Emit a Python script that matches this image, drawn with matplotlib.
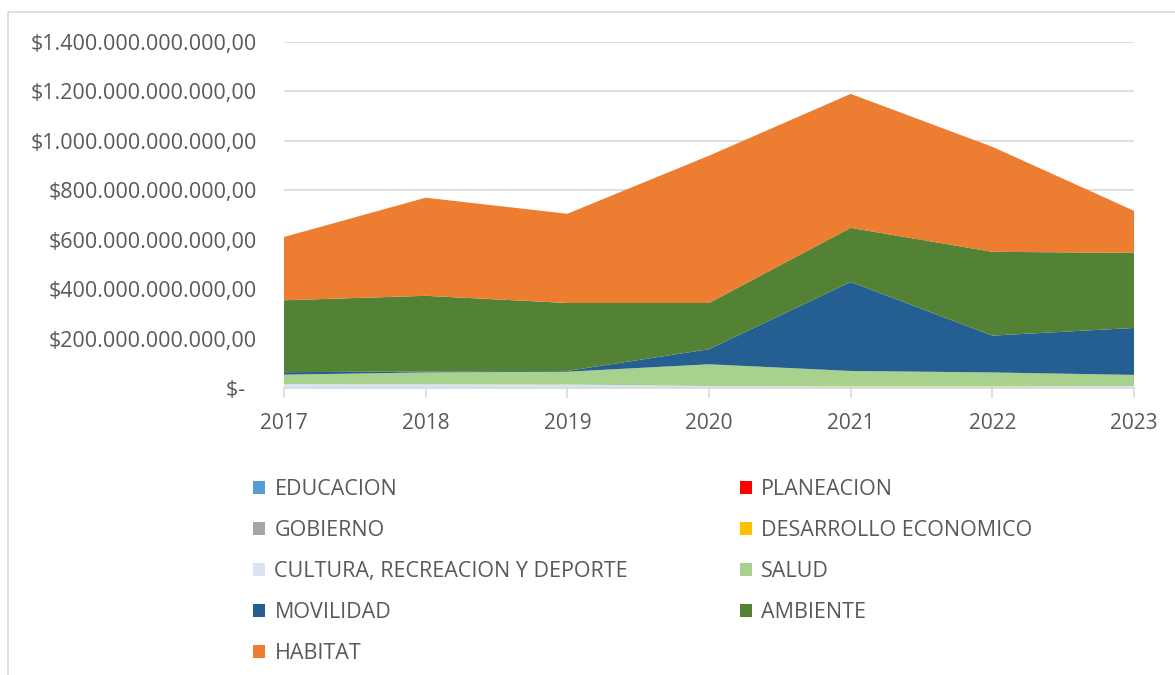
import matplotlib
matplotlib.use("Agg")
import matplotlib.pyplot as plt
from matplotlib.patches import Rectangle, Patch
from matplotlib.ticker import FuncFormatter, FixedLocator
import numpy as np

years = ["2017", "2018", "2019", "2020", "2021", "2022", "2023"]
series_names = ["EDUCACION", "PLANEACION", "GOBIERNO", "DESARROLLO ECONOMICO",
                "CULTURA, RECREACION Y DEPORTE", "SALUD", "MOVILIDAD", "AMBIENTE", "HABITAT"]
# values in billions of pesos (1e9)
educacion  = [0, 0, 0, 0, 0, 0, 0]
planeacion = [0, 0, 0, 0, 0, 0, 0]
gobierno   = [0, 0, 0, 0, 0, 0, 0]
desarrollo = [0, 0, 0, 0, 5, 5, 0]
cultura    = [16, 15, 14, 8, 2, 2, 8]
salud      = [38, 48, 52, 88, 62, 56, 45]
movilidad  = [10, 4, 3, 61, 360, 149, 190]
ambiente   = [291, 306, 275, 187, 219, 339, 304]
habitat    = [256, 397, 361, 596, 542, 425, 170]

colors = ["#5B9BD5", "#FF0000", "#A5A5A5", "#FFC000", "#DAE3F3",
          "#A9D18E", "#255E91", "#548235", "#ED7D31"]

plt.rcParams['font.family'] = ['Open Sans', 'DejaVu Sans']

W, H = 1175, 675
fig = plt.figure(figsize=(W / 100, H / 100), dpi=100)
ax = fig.add_axes([284 / W, 1 - 388 / H, (1134 - 284) / W, (388 - 42) / H])

data = [educacion, planeacion, gobierno, desarrollo, cultura, salud, movilidad, ambiente, habitat]
vals = [np.array(s, dtype=float) * 1e9 for s in data]
x = np.arange(len(years))
ax.stackplot(x, *vals, colors=colors, labels=series_names, linewidth=0)

ax.set_xlim(0, len(years) - 1)
ax.set_ylim(0, 1.4e12)
ax.yaxis.set_major_locator(FixedLocator(np.arange(0, 1.41e12, 2e11)))


def fmt(v, pos):
    if abs(v) < 1:
        return "$-  "
    s = f"{v:,.2f}".replace(",", "X").replace(".", ",").replace("X", ".")
    return "$" + s


ax.yaxis.set_major_formatter(FuncFormatter(fmt))
ax.set_xticks(x)
ax.set_xticklabels(years)
ax.grid(axis='y', color='#D9D9D9', linewidth=1.2)
ax.set_axisbelow(True)
for sp in ["top", "right", "left"]:
    ax.spines[sp].set_visible(False)
ax.spines["bottom"].set_color("#D9D9D9")
ax.spines["bottom"].set_linewidth(1.2)
ax.tick_params(axis='y', length=0, pad=19.5, labelsize=15.5, labelcolor='#595959')
ax.tick_params(axis='x', length=7, width=1.2, color='#D9D9D9', pad=11,
               labelsize=15, labelcolor='#595959', direction='out')

# legend, row-major order as in reference
order = [0, 2, 4, 6, 8, 1, 3, 5, 7]
handles = [Patch(facecolor=colors[i], edgecolor='none') for i in order]
labels = [series_names[i] for i in order]
fig.legend(handles, labels, ncol=2, loc='upper left',
           bbox_to_anchor=(234 / W, 1 - 460 / H), frameon=False,
           fontsize=15.5, labelcolor='#595959', handlelength=0.56, handleheight=0.56,
           handletextpad=0.42, labelspacing=0.93, columnspacing=5.2)

fig.patches.append(Rectangle((8 / W, -0.01), 1.1, (H - 12) / H + 0.01,
                             transform=fig.transFigure, fill=False,
                             edgecolor='#D9D9D9', linewidth=1.2))

fig.savefig("out.png", dpi=100)
